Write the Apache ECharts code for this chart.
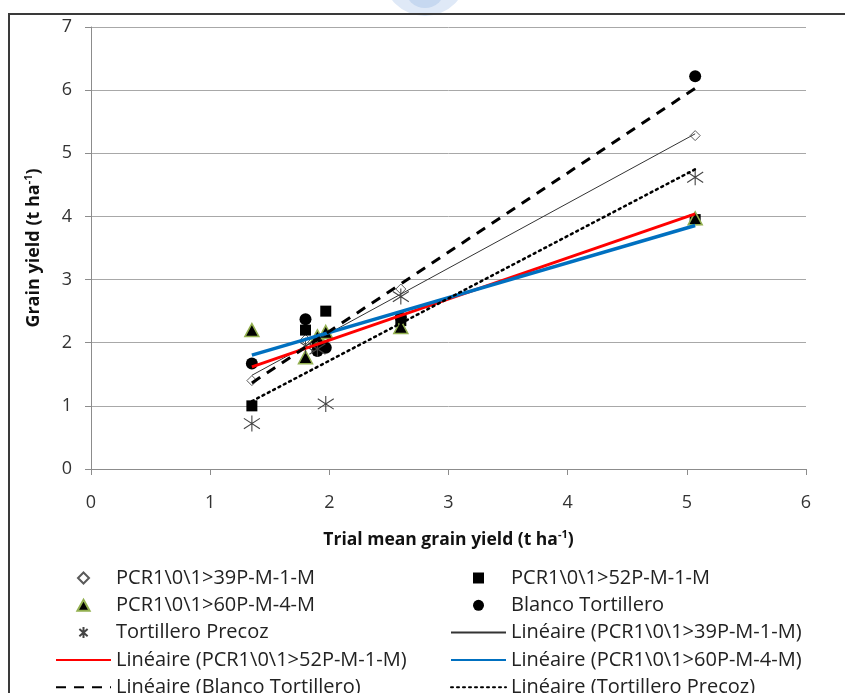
<!DOCTYPE html>
<html>
<head>
<meta charset="utf-8">
<script src="https://cdn.jsdelivr.net/npm/echarts@6/dist/echarts.min.js"></script>
<style>
  html, body { margin: 0; padding: 0; background: #fff; }
  #wrap { position: relative; width: 845px; height: 693px; overflow: hidden; }
  #chart { position: absolute; left: 0; top: 0; width: 845px; height: 800px; }
  #frame { position: absolute; left: 8px; top: 13px; width: 900px; height: 900px;
           border: 2px solid #3a3a3a; box-sizing: border-box; pointer-events: none; }
</style>
</head>
<body>
<div id="wrap">
  <div id="chart"></div>
  <div id="frame"></div>
</div>
<script>
// ---- data ----
const trialMeans = [1.35, 1.8, 1.9, 1.97, 2.6, 5.07];
const names = ['PCR1\\0\\1>39P-M-1-M', 'PCR1\\0\\1>52P-M-1-M', 'PCR1\\0\\1>60P-M-4-M', 'Blanco Tortillero', 'Tortillero Precoz'];
const y39P = [1.4, 2.05, 2.0, 2.1, 2.85, 5.28];
const y52P = [1.0, 2.2, 2.0, 2.5, 2.35, 3.95];
const y60P = [2.2, 1.77, 2.1, 2.17, 2.25, 3.97];
const yBlanco = [1.67, 2.37, 1.87, 1.92, 2.4, 6.22];
const yPrecoz = [0.72, 1.95, 1.9, 1.03, 2.73, 4.62];
const xTicks = [0, 1, 2, 3, 4, 5, 6];
const yTicks = [0, 1, 2, 3, 4, 5, 6, 7];

const FONT = 'Open Sans';

function pairs(xs, ys) { return xs.map((x, i) => [x, ys[i]]); }
function trend(xs, ys) {
  const n = xs.length;
  const mx = xs.reduce((a, b) => a + b, 0) / n;
  const my = ys.reduce((a, b) => a + b, 0) / n;
  let sxy = 0, sxx = 0;
  for (let i = 0; i < n; i++) { sxy += (xs[i] - mx) * (ys[i] - my); sxx += (xs[i] - mx) ** 2; }
  const b = sxy / sxx, a = my - b * mx;
  const x0 = Math.min(...xs), x1 = Math.max(...xs);
  return [[x0, a + b * x0], [x1, a + b * x1]];
}

const lin = n => 'Linéaire (' + n + ')';
const SYM = {
  diamond: 'path://M10,0 L20,10 L10,20 L0,10 Z',
  square: 'path://M0,0 L20,0 L20,20 L0,20 Z',
  triangle: 'path://M10,0 L20,18 L0,18 Z',
  circle: 'path://M0,10 A10,10 0 1,0 20,10 A10,10 0 1,0 0,10 Z',
  star: 'path://M10,0 L10,20 M2.5,3.5 L17.5,16.5 M2.5,16.5 L17.5,3.5'
};
const noDot = { color: 'rgba(0,0,0,0)', borderWidth: 0 };

const series = [
  { name: names[0], type: 'scatter', symbol: SYM.diamond, symbolSize: 10,
    itemStyle: { color: '#ffffff', borderColor: '#5a5a5a', borderWidth: 1, opacity: 1 },
    data: pairs(trialMeans, y39P), z: 2 },
  { name: names[1], type: 'scatter', symbol: SYM.square, symbolSize: 11,
    itemStyle: { color: '#000000', opacity: 1 }, data: pairs(trialMeans, y52P), z: 2 },
  { name: names[2], type: 'scatter', symbol: SYM.triangle, symbolSize: [14, 13],
    itemStyle: { color: '#000000', borderColor: '#93b050', borderWidth: 1.5, opacity: 1 },
    data: pairs(trialMeans, y60P), z: 2 },
  { name: names[3], type: 'scatter', symbol: SYM.circle, symbolSize: 12,
    itemStyle: { color: '#000000', opacity: 1 }, data: pairs(trialMeans, yBlanco), z: 2 },
  { name: names[4], type: 'scatter', symbol: SYM.star, symbolSize: 16,
    itemStyle: { color: 'rgba(0,0,0,0)', borderColor: '#444444', borderWidth: 1.1, opacity: 1 },
    data: pairs(trialMeans, yPrecoz), z: 2 },
  { name: lin(names[0]), type: 'line', symbol: 'none', z: 3, itemStyle: noDot,
    lineStyle: { color: '#333333', width: 1 }, data: trend(trialMeans, y39P) },
  { name: lin(names[1]), type: 'line', symbol: 'none', z: 3, itemStyle: noDot,
    lineStyle: { color: '#ff0000', width: 3 }, data: trend(trialMeans, y52P) },
  { name: lin(names[2]), type: 'line', symbol: 'none', z: 3, itemStyle: noDot,
    lineStyle: { color: '#0070c0', width: 3.5 }, data: trend(trialMeans, y60P) },
  { name: lin(names[3]), type: 'line', symbol: 'none', z: 3, itemStyle: noDot,
    lineStyle: { color: '#000000', width: 3, type: [10, 8] }, data: trend(trialMeans, yBlanco) },
  { name: lin(names[4]), type: 'line', symbol: 'none', z: 3, itemStyle: noDot,
    lineStyle: { color: '#000000', width: 2.5, type: [2, 4], cap: 'round' }, data: trend(trialMeans, yPrecoz) }
];
series.forEach(s => { s.emphasis = { disabled: true }; s.animation = false; });

const legendText = { fontFamily: FONT, fontSize: 20, color: '#222', lineHeight: 20 };
const legendBase = {
  orient: 'vertical', itemWidth: 55, itemHeight: 11, itemGap: 7.3, top: 568, padding: 0,
  textStyle: legendText, selectedMode: false, symbolKeepAspect: true
};

const chart = echarts.init(document.getElementById('chart'), null, { renderer: 'canvas' });
chart.setOption({
  animation: false,
  backgroundColor: 'transparent',
  graphic: [
    { type: 'circle', shape: { cx: 425, cy: -26, r: 42 }, style: { fill: '#dfe9f7' }, silent: true },
    { type: 'circle', shape: { cx: 425, cy: -12, r: 20 }, style: { fill: '#c6d8f0' }, silent: true }
  ],
  grid: { left: 91, right: 39, top: 27, bottom: 331, containLabel: false },
  xAxis: {
    type: 'value', min: xTicks[0], max: xTicks[xTicks.length - 1], interval: 1,
    axisLine: { show: true, lineStyle: { color: '#8c8c8c', width: 1 } },
    axisTick: { show: true, length: 6, lineStyle: { color: '#8c8c8c' } },
    splitLine: { show: false },
    axisLabel: { fontFamily: FONT, fontSize: 18, color: '#333', margin: 25 },
    name: 'Trial mean grain yield (t ha{sup|-1})', nameLocation: 'middle', nameGap: 60,
    nameTextStyle: {
      fontFamily: FONT, fontSize: 17.5, fontWeight: 'bold', color: '#111', lineHeight: 22,
      rich: { sup: { fontFamily: FONT, fontSize: 11, fontWeight: 'bold', color: '#111', verticalAlign: 'top', lineHeight: 22 } }
    }
  },
  yAxis: {
    type: 'value', min: yTicks[0], max: yTicks[yTicks.length - 1], interval: 1,
    axisLine: { show: true, lineStyle: { color: '#8c8c8c', width: 1 } },
    axisTick: { show: true, length: 6, lineStyle: { color: '#8c8c8c' } },
    splitLine: { show: true, lineStyle: { color: '#a8a8a8', width: 1 } },
    axisLabel: { fontFamily: FONT, fontSize: 18, color: '#333', margin: 19 },
    name: 'Grain yield (t ha{sup|-1})', nameLocation: 'middle', nameGap: 46, nameRotate: 90,
    nameTextStyle: {
      fontFamily: FONT, fontSize: 18, fontWeight: 'bold', color: '#111', lineHeight: 22,
      rich: { sup: { fontFamily: FONT, fontSize: 11, fontWeight: 'bold', color: '#111', verticalAlign: 'top', lineHeight: 22 } }
    }
  },
  legend: [
    Object.assign({}, legendBase, { left: 55, data: [names[0], names[2], names[4], lin(names[1]), lin(names[3])] }),
    Object.assign({}, legendBase, { left: 450, data: [names[1], names[3], lin(names[0]), lin(names[2]), lin(names[4])] })
  ],
  series: series
});
</script>
</body>
</html>
